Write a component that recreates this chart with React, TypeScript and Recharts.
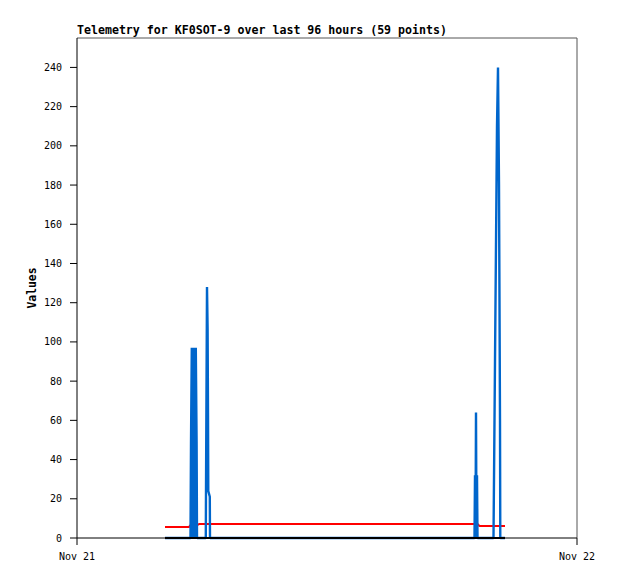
import { Line, LineChart, ReferenceLine, XAxis, YAxis } from 'recharts';

// hours since Nov 21 00:00
const hours = [
  4.224, 4.56, 4.944, 5.376, 5.448, 5.472, 5.51, 5.558, 5.606, 5.654, 5.702, 5.741, 5.76, 5.856, 6.048,
  6.182, 6.192, 6.24, 6.269, 6.288, 6.302, 6.374, 6.384, 7.824, 9.744, 11.664, 13.584, 15.504, 17.424,
  18.864, 19.08, 19.104, 19.128, 19.152, 19.176, 19.2, 19.224, 19.32, 19.632, 19.992, 20.016, 20.064,
  20.112, 20.16, 20.208, 20.256, 20.304, 20.318, 20.544,
];

const blueValues = [
  0, 0, 0, 0, 0, 48, 97, 0, 97, 0, 97, 48, 0, 0, 0, 0, 24, 128, 107, 64, 24, 21, 0, 0, 0, 0, 0, 0, 0, 0,
  0, 32, 0, 64, 0, 32, 0, 0, 0, 0, 30, 90, 150, 210, 240, 180, 60, 0, 0,
];

const redValues = [
  5.6, 5.6, 5.6, 5.6, 6.5, 6.5, 6.5, 6.5, 6.5, 6.5, 6.5, 6.5, 6.5, 7.1, 7.1, 7.1, 7.1, 7.1, 7.1, 7.1, 7.1,
  7.1, 7.1, 7.1, 7.1, 7.1, 7.1, 7.1, 7.1, 7.1, 7.1, 7.1, 7.1, 7.1, 7.1, 7.1, 7.1, 6.1, 6.1, 6.1, 6.1, 6.1,
  6.1, 6.1, 6.1, 6.1, 6.1, 6.1, 6.1,
];

const blackValues = [
  0, 0, 0, 0, 0, 0, 0, 0, 0, 0, 0, 0, 0, 0, 0, 0, 0, 0, 0, 0, 0, 0, 0, 0, 0, 0, 0, 0, 0, 0, 0, 0, 0, 0, 0,
  0, 0, 0, 0, 0, 0, 0, 0, 0, 0, 0, 0, 0, 0,
];

const yTicks = [0, 20, 40, 60, 80, 100, 120, 140, 160, 180, 200, 220, 240];
const xTicks = [0, 24];
const xTickLabels = ['Nov 21', 'Nov 22'];
const title = 'Telemetry for KF0SOT-9 over last 96 hours (59 points)';

const data = hours.map((t, i) => ({
  t,
  blue: blueValues[i],
  red: redValues[i],
  black: blackValues[i],
}));

const mono = '"DejaVu Sans Mono", monospace';

export default function App() {
  return (
    <div style={{ position: 'absolute', left: 0, top: 0, width: 618, height: 579, background: '#fff' }}>
      <LineChart width={618} height={579} data={data} margin={{ top: 38, right: 41, bottom: 11, left: 0 }}>
        <XAxis
          type="number"
          dataKey="t"
          domain={[0, 24]}
          ticks={xTicks}
          tickFormatter={v => xTickLabels[xTicks.indexOf(v)]}
          height={30}
          stroke="#000"
          tickSize={7}
          tickMargin={8}
          tick={{ fill: '#000', fontSize: 10, fontFamily: mono }}
        />
        <YAxis
          type="number"
          domain={[0, 255]}
          ticks={yTicks}
          width={77}
          stroke="#000"
          tickSize={7}
          tickMargin={8}
          tick={{ fill: '#000', fontSize: 10, fontFamily: mono }}
        />
        <ReferenceLine y={255} stroke="#555" />
        <ReferenceLine x={24} stroke="#555" />
        <Line type="linear" dataKey="red" stroke="#ff0000" strokeWidth={2} strokeLinejoin="bevel" dot={false} isAnimationActive={false} />
        <Line type="linear" dataKey="blue" stroke="#0066cc" strokeWidth={2.4} strokeLinejoin="bevel" dot={false} isAnimationActive={false} />
        <Line type="linear" dataKey="black" stroke="#000" strokeWidth={2} dot={false} isAnimationActive={false} />
      </LineChart>
      <svg width={618} height={579} style={{ position: 'absolute', left: 0, top: 0, pointerEvents: 'none' }}>
        <text x={77} y={34} fontFamily={mono} fontSize={11.6} fontWeight="bold" fill="#000">
          {title}
        </text>
        <text
          transform="translate(36,288) rotate(-90)"
          textAnchor="middle"
          fontFamily={mono}
          fontSize={11.4}
          fontWeight="bold"
          fill="#000"
        >
          Values
        </text>
      </svg>
    </div>
  );
}
